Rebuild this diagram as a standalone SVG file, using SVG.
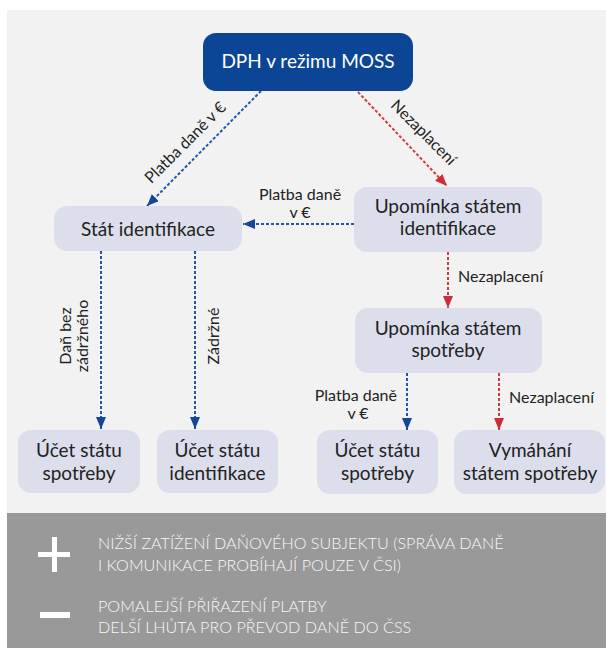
<svg xmlns="http://www.w3.org/2000/svg" width="606" height="648" viewBox="0 0 606 648">
<defs>
<marker id="ab" viewBox="0 0 12 10" refX="12" refY="5" markerWidth="12" markerHeight="10" markerUnits="userSpaceOnUse" orient="auto"><path d="M0,0 L12,5 L0,10 z" fill="#14479b"/></marker>
<marker id="ar" viewBox="0 0 12 10" refX="12" refY="5" markerWidth="12" markerHeight="10" markerUnits="userSpaceOnUse" orient="auto"><path d="M0,0 L12,5 L0,10 z" fill="#cf2d36"/></marker>
<style>
.node{fill:#dcdeeb}
.nt{font-family:Lato,"Liberation Sans",sans-serif;font-size:19px;fill:#222222;text-anchor:middle}
.lt{font-family:Lato,"Liberation Sans",sans-serif;font-size:16px;fill:#222222}
.bl{stroke:#1f56a8;stroke-width:2;stroke-dasharray:3 2;fill:none}
.rd{stroke:#d13a43;stroke-width:2;stroke-dasharray:3 2;fill:none}
.bt{font-family:Lato,"Liberation Sans",sans-serif;font-size:16.2px;font-weight:300;fill:#f7f7f7}
</style>
</defs>
<rect x="0" y="0" width="606" height="648" fill="#ffffff"/>
<rect x="7" y="10" width="599" height="503" fill="#f2f2f2"/>
<rect x="7" y="513" width="599" height="135" fill="#999999"/>

<g id="connectors">
<line class="bl" x1="261" y1="91" x2="147" y2="206" marker-end="url(#ab)"/>
<line class="rd" x1="358" y1="92" x2="447" y2="186" marker-end="url(#ar)"/>
<line class="bl" x1="354" y1="224" x2="243" y2="224" marker-end="url(#ab)"/>
<line class="rd" x1="448" y1="252" x2="448" y2="308" marker-end="url(#ar)"/>
<line class="bl" x1="101" y1="251" x2="101" y2="429" marker-end="url(#ab)"/>
<line class="bl" x1="195" y1="251" x2="195" y2="429" marker-end="url(#ab)"/>
<line class="bl" x1="407" y1="373" x2="407" y2="430" marker-end="url(#ab)"/>
<line class="rd" x1="499" y1="373" x2="499" y2="430" marker-end="url(#ar)"/>
<text class="lt" text-anchor="middle" transform="translate(185,142) rotate(-45)" y="6">Platba daně v €</text>
<text class="lt" text-anchor="middle" transform="translate(424,132) rotate(45)" y="6">Nezaplacení</text>
<text class="lt" text-anchor="middle" x="300" y="200">Platba daně</text>
<text class="lt" text-anchor="middle" x="300" y="218">v €</text>
<text class="lt" x="458" y="282">Nezaplacení</text>
<text class="lt" text-anchor="middle" transform="translate(65,336) rotate(-90)" y="6">Daň bez</text>
<text class="lt" text-anchor="middle" transform="translate(82,336) rotate(-90)" y="6">zádržného</text>
<text class="lt" text-anchor="middle" transform="translate(213,336) rotate(-90)" y="6">Zádržné</text>
<text class="lt" text-anchor="end" x="397" y="401">Platba daně</text>
<text class="lt" text-anchor="middle" x="358" y="419">v €</text>
<text class="lt" x="509" y="403">Nezaplacení</text>
</g>

<g id="n-dph">
<rect x="203" y="33" width="210" height="58" rx="13" fill="#0c4595"/>
<text class="nt" x="308" y="68" style="fill:#ffffff">DPH v režimu MOSS</text>
</g>
<g id="n-stat-id">
<rect class="node" x="54" y="206" width="188" height="45" rx="13"/>
<text class="nt" x="148" y="236">Stát identifikace</text>
</g>
<g id="n-upom-id">
<rect class="node" x="354" y="187" width="188" height="65" rx="13"/>
<text class="nt" x="448" y="213">Upomínka státem</text>
<text class="nt" x="448" y="235">identifikace</text>
</g>
<g id="n-upom-sp">
<rect class="node" x="355" y="308" width="187" height="65" rx="13"/>
<text class="nt" x="448" y="335">Upomínka státem</text>
<text class="nt" x="448" y="357">spotřeby</text>
</g>
<g id="n-ucet-sp1">
<rect class="node" x="18" y="430" width="122" height="63" rx="13"/>
<text class="nt" x="79" y="457">Účet státu</text>
<text class="nt" x="79" y="480">spotřeby</text>
</g>
<g id="n-ucet-id">
<rect class="node" x="157" y="430" width="121" height="63" rx="13"/>
<text class="nt" x="217.5" y="457">Účet státu</text>
<text class="nt" x="217.5" y="480">identifikace</text>
</g>
<g id="n-ucet-sp2">
<rect class="node" x="317" y="430" width="121" height="64" rx="13"/>
<text class="nt" x="377.5" y="457">Účet státu</text>
<text class="nt" x="377.5" y="480">spotřeby</text>
</g>
<g id="n-vymahani">
<rect class="node" x="454" y="430" width="151" height="64" rx="13"/>
<text class="nt" x="530" y="457">Vymáhání</text>
<text class="nt" x="530" y="480">státem spotřeby</text>
</g>

<g id="legend">
<rect x="38" y="552" width="32" height="5" fill="#ffffff"/>
<rect x="52" y="537" width="5" height="35" fill="#ffffff"/>
<rect x="40" y="612" width="30" height="6" fill="#ffffff"/>
<text class="bt" x="98" y="549">NIŽŠÍ ZATÍŽENÍ DAŇOVÉHO SUBJEKTU (SPRÁVA DANĚ</text>
<text class="bt" x="98" y="571">I KOMUNIKACE PROBÍHAJÍ POUZE V ČSI)</text>
<text class="bt" x="98" y="612">POMALEJŠÍ PŘIŘAZENÍ PLATBY</text>
<text class="bt" x="98" y="633">DELŠÍ LHŮTA PRO PŘEVOD DANĚ DO ČSS</text>
</g>
</svg>
